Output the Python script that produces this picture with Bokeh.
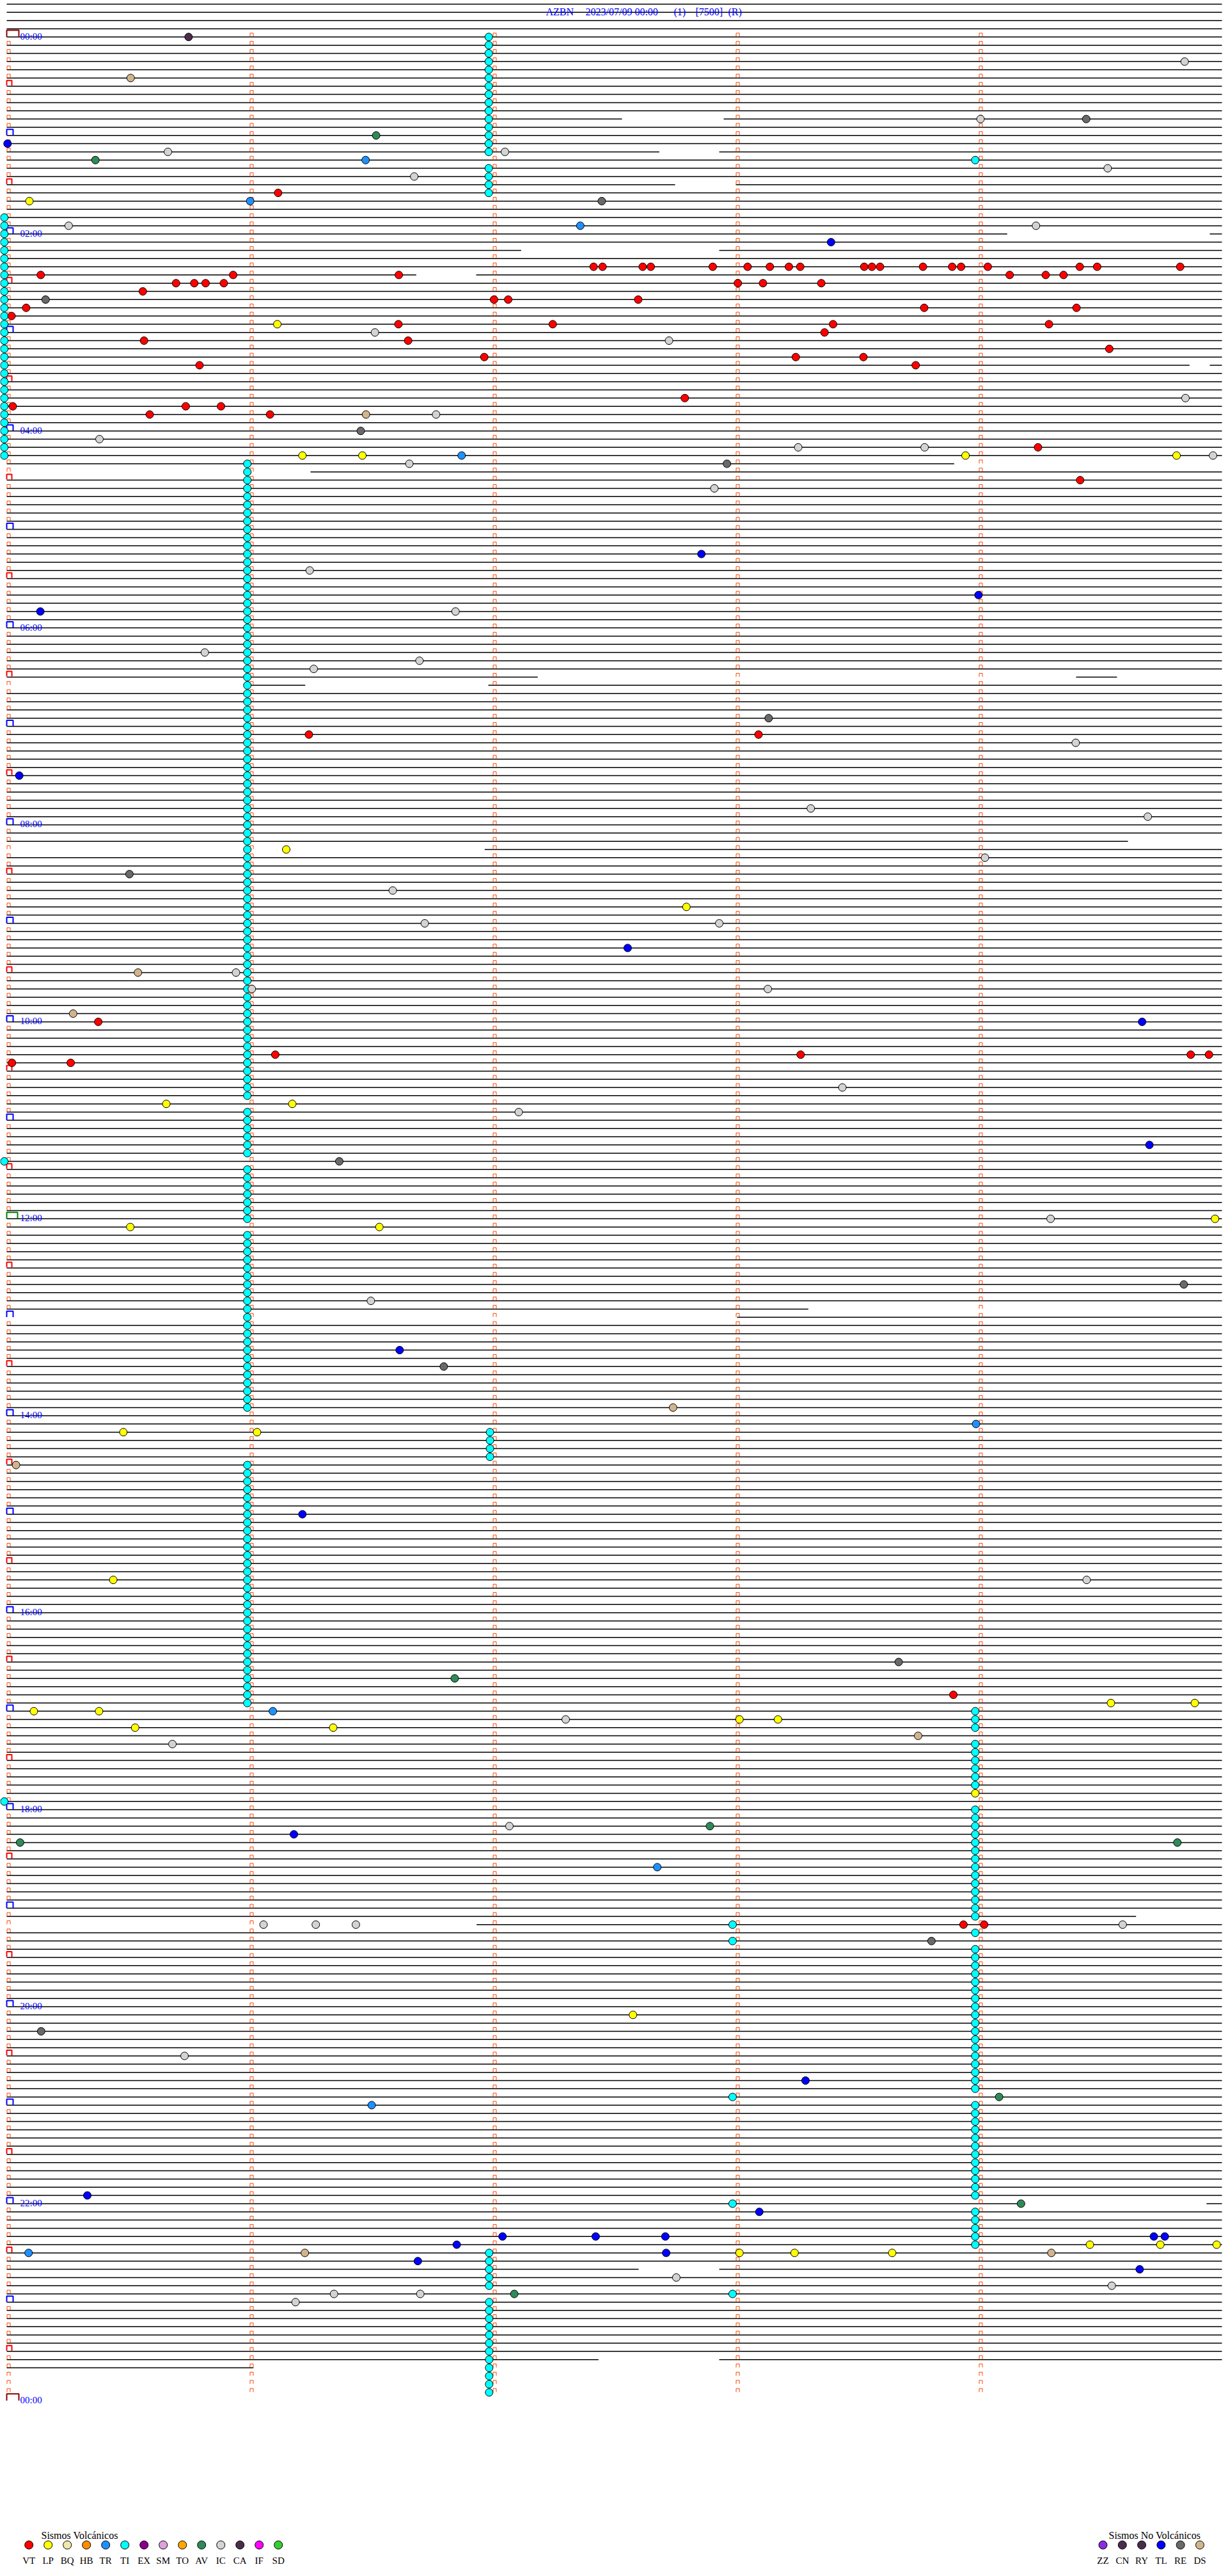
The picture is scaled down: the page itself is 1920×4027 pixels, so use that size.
from bokeh.plotting import figure
from bokeh.models import Range1d
from bokeh.embed import file_html
from bokeh.resources import INLINE
from bokeh.core.properties import value

# ------------------------------------------------------------------ data
TITLE_PARTS = ["AZBN", "2023/07/09 00:00", "(1)", "[7500]", "(R)"]
HOUR_LABELS = ["00:00", "02:00", "04:00", "06:00", "08:00", "10:00", "12:00",
               "14:00", "16:00", "18:00", "20:00", "22:00", "00:00"]
N_ROWS = 288            # 5-minute rows in the day
ROW_SECONDS = 300
LAST_TRACE_ROW = 284    # data stops in row 284 (23:40)

# trace segments (seconds inside the row) where a row is not complete
TRACE_SEGMENTS = {
    10: [(0, 151.9), (177.0, 300)], 14: [(0, 161.1), (175.9, 300)],
    18: [(0, 165.0), (180.0, 300)], 24: [(0, 247.0), (297.0, 300)],
    26: [(0, 127.0), (175.9, 300)], 29: [(0, 101.1), (115.9, 300)],
    40: [(0, 292.0), (297.0, 300)], 52: [(0, 233.9)], 53: [(75.0, 300)],
    78: [(0, 131.1), (264.0, 274.1)], 79: [(59.4, 73.7), (118.9, 300)],
    98: [(0, 276.8)], 99: [(118.0, 300)], 155: [(0, 197.9)], 156: [(180.3, 300)],
    229: [(0, 278.8)], 230: [(116.0, 300)], 264: [(0, 250.4), (296.2, 300)],
    272: [(0, 156.0), (175.9, 300)], 283: [(0, 146.1), (175.9, 300)],
    284: [(0, 60.9)],
}

# tremor (TI) runs: (first row, last row, offset seconds)
TI_RUNS = [(0, 14, 119.0), (15, 15, 239.1), (16, 19, 119.0), (22, 51, -0.6),
           (52, 129, 59.4), (131, 136, 59.4), (137, 137, -0.6), (138, 144, 59.4),
           (146, 167, 59.4), (170, 173, 119.3), (174, 203, 59.4), (204, 206, 239.1),
           (208, 213, 239.1), (215, 215, -0.6), (216, 229, 239.1), (230, 230, 179.2),
           (231, 231, 239.1), (232, 232, 179.2), (233, 250, 239.1), (251, 251, 179.2),
           (252, 263, 239.1), (264, 264, 179.2), (265, 269, 239.1), (270, 274, 119.1),
           (275, 275, 179.2), (276, 287, 119.1)]

# single events: (row, offset seconds)
VT_EVENTS = [
    (19, 67.0),
    (28, 144.9), (28, 147.1), (28, 157.0), (28, 159.0), (28, 174.3), (28, 182.9),
    (28, 188.4), (28, 193.1), (28, 195.9), (28, 211.7), (28, 213.6), (28, 215.6),
    (28, 226.2), (28, 233.4), (28, 235.6), (28, 242.2), (28, 264.9), (28, 269.2),
    (28, 289.7),
    (29, 8.4), (29, 55.9), (29, 96.8), (29, 247.6), (29, 256.5), (29, 260.9),
    (30, 41.8), (30, 46.3), (30, 49.1), (30, 53.6), (30, 180.5), (30, 186.7), (30, 201.1),
    (31, 33.6), (32, 120.3), (32, 123.8), (32, 155.9),
    (33, 4.8), (33, 226.5), (33, 264.1), (34, 1.2),
    (35, 96.7), (35, 134.8), (35, 204.0), (35, 257.3), (36, 201.9),
    (37, 33.9), (37, 99.1), (38, 272.2), (39, 117.9), (39, 194.8), (39, 211.5),
    (40, 47.6), (40, 224.4), (44, 167.4), (45, 1.5), (45, 44.2), (45, 52.9),
    (46, 35.3), (46, 65.0), (50, 254.6), (54, 265.0), (85, 74.6), (85, 185.6),
    (120, 22.6), (124, 66.3), (124, 196.0), (124, 292.3), (124, 296.8),
    (125, 1.3), (125, 15.8), (202, 233.7), (230, 236.2), (230, 241.3),
]
LP_EVENTS = [
    (20, 5.6), (35, 66.8), (51, 73.0), (51, 87.8), (51, 236.7), (51, 288.8),
    (99, 69.0), (106, 167.8), (130, 39.4), (130, 70.5), (144, 298.3),
    (145, 30.5), (145, 92.0), (170, 28.8), (170, 61.8), (188, 26.3),
    (203, 272.6), (203, 293.3), (204, 6.7), (204, 22.8), (205, 180.9), (205, 190.4),
    (206, 31.7), (206, 80.6), (214, 239.1), (241, 154.6),
    (269, 267.4), (269, 284.8), (269, 298.7), (270, 180.9), (270, 194.5), (270, 218.6),
]
TR_EVENTS = [(15, 88.6), (20, 60.1), (23, 141.6), (51, 112.3), (169, 239.3),
             (204, 65.7), (223, 160.6), (252, 90.1), (270, 5.4)]
TL_EVENTS = [(13, 0.2), (25, 203.5), (63, 171.5), (68, 239.9), (70, 8.3), (90, 3.1),
             (111, 153.3), (120, 280.3), (135, 282.1), (160, 97.0), (180, 73.0),
             (219, 70.9), (249, 197.2), (263, 19.9), (265, 185.8),
             (268, 122.4), (268, 145.4), (268, 162.6), (268, 283.2), (268, 285.9),
             (269, 111.1), (270, 162.8), (271, 101.5), (272, 279.7)]
IC_EVENTS = [
    (3, 290.8), (10, 240.4), (14, 39.8), (14, 123.0), (16, 271.8), (17, 100.6),
    (23, 15.3), (23, 254.1), (36, 90.9), (37, 163.5), (44, 291.0), (46, 106.0),
    (49, 22.9), (50, 195.4), (50, 226.6), (51, 297.8), (52, 99.4), (55, 174.7),
    (65, 74.8), (70, 110.8), (75, 48.9), (76, 101.9), (77, 75.8), (86, 263.9),
    (94, 198.5), (95, 281.7), (100, 241.5), (104, 95.3), (108, 103.2), (108, 175.9),
    (114, 56.6), (116, 60.5), (116, 187.9), (128, 206.3), (131, 126.4), (144, 257.7),
    (154, 89.9), (188, 266.6), (205, 138.0), (208, 40.9), (218, 124.1),
    (230, 63.4), (230, 76.3), (230, 86.2), (230, 275.5), (246, 43.9),
    (273, 165.3), (274, 272.8), (275, 80.8), (275, 102.1), (276, 71.3),
]
RE_EVENTS = [(10, 266.5), (20, 146.9), (32, 9.6), (48, 87.4), (52, 177.8), (83, 188.1),
             (102, 30.3), (137, 82.1), (152, 290.6), (162, 107.9), (198, 220.2),
             (232, 228.3), (243, 8.5)]
DS_EVENTS = [(5, 30.6), (46, 88.7), (114, 32.4), (119, 16.4), (167, 164.5),
             (174, 2.3), (207, 225.0), (270, 73.6), (270, 257.9)]
AV_EVENTS = [(12, 91.2), (15, 21.9), (200, 110.6), (218, 173.6), (220, 3.3),
             (220, 289.0), (251, 245.0), (264, 250.4), (275, 125.3)]
CA_EVENTS = [(0, 44.9)]

VOLC_TYPES = ["VT", "LP", "BQ", "HB", "TR", "TI", "EX", "SM", "TO", "AV", "IC", "CA", "IF", "SD"]
VOLC_COLORS = ["#FF0000", "#FFFF00", "#EEE8AA", "#FF8C00", "#1E90FF", "#00FFFF", "#8B008B",
               "#DDA0DD", "#FFA500", "#2E8B57", "#D3D3D3", "#4B2D4B", "#FF00FF", "#32CD32"]
NONVOLC_TYPES = ["ZZ", "CN", "RY", "TL", "RE", "DS"]
NONVOLC_COLORS = ["#8A2BE2", "#4B2D4B", "#4B2D4B", "#0000FF", "#696969", "#D2B48C"]

# ------------------------------------------------------------------ layout
W, H = 1912, 4019
ORIGIN_X, ORIGIN_Y = 0.0, 0.0   # screen position of the frame's top-left corner
PX_PER_SEC = 380.0 / 60.0
X0_PX = 10.0
ROW0_PX = 57.3
ROW_PX = 12.83


def sx(px):
    return (px - X0_PX) / PX_PER_SEC


def ry(py):
    return (py - ROW0_PX) / ROW_PX


DX = 1.0 / PX_PER_SEC
DY = 1.0 / ROW_PX
FONT = value("Liberation Serif")

p = figure(width=W, height=H, output_backend="svg", toolbar_location=None,
           x_range=Range1d(sx(ORIGIN_X), sx(ORIGIN_X + W)),
           y_range=Range1d(ry(ORIGIN_Y + H), ry(ORIGIN_Y)),
           min_border=0, min_border_left=0, min_border_right=0,
           min_border_top=0, min_border_bottom=0)
p.axis.visible = False
p.grid.visible = False
p.outline_line_color = None
p.background_fill_color = "white"
p.border_fill_color = "white"

# traces
xs, ys = [], []
for r in range(-4, LAST_TRACE_ROW + 1):
    for a, b in TRACE_SEGMENTS.get(r, [(0, ROW_SECONDS)]):
        xs.append([a, b])
        ys.append([r, r])
p.multi_line(xs, ys, line_color="black", line_width=1.5)


# minute marks
def n_shape(xc, r, left, right, top, bottom):
    return ([xc + left * DX, xc + left * DX, xc + right * DX, xc + right * DX],
            [r - bottom * DY, r - top * DY, r - top * DY, r - bottom * DY])


mx, my = [], []
big = {"#8B0000": ([], []), "#008000": ([], []), "#0000FF": ([], []), "#FF0000": ([], [])}
for r in range(N_ROWS + 1):
    for m in range(5):
        xc = m * 60
        if m == 0 and r % 6 == 0:
            if r % 144 == 0 and r != 144:
                col, shp = "#8B0000", (0, 19, 10.5, 0)
            elif r == 144:
                col, shp = "#008000", (0, 17, 10, 0)
            elif r % 12 == 0:
                col, shp = "#0000FF", (0, 10, 9.5, 0.3)
            else:
                col, shp = "#FF0000", (0, 8, 9, 1)
            a, b = n_shape(xc, r, *shp)
            big[col][0].append(a)
            big[col][1].append(b)
        elif r < N_ROWS:
            a, b = n_shape(xc, r, 0.5, 5.5, 6, 0.5)
            mx.append(a)
            my.append(b)
p.multi_line(mx, my, line_color="#FF4500", line_width=1)
for col, (a, b) in big.items():
    p.multi_line(a, b, line_color=col, line_width=2)

# hour labels
lab_rows = [i * 24 for i in range(len(HOUR_LABELS))]
p.text(x=[sx(31)] * len(lab_rows), y=lab_rows, text=HOUR_LABELS, text_font=FONT,
       text_font_size="15px", text_color="#0000FF", text_baseline="alphabetic",
       text_align="left", y_offset=-1)

# title
title_px = [853, 915, 1053, 1087, 1138]
p.text(x=[sx(v) for v in title_px], y=[ry(18.3)] * len(TITLE_PARTS), text=TITLE_PARTS,
       text_font=FONT, text_font_size="16px", text_color="#0000FF",
       text_baseline="alphabetic", text_align="left")

# events
ti_r, ti_s = [], []
for a, b, s in TI_RUNS:
    for r in range(a, b + 1):
        ti_r.append(r)
        ti_s.append(s)
p.scatter(ti_s, ti_r, marker="circle", size=12, fill_color="#00FFFF",
          line_color="black", line_width=1)

for events, col in [(VT_EVENTS, "#FF0000"), (LP_EVENTS, "#FFFF00"), (TR_EVENTS, "#1E90FF"),
                    (TL_EVENTS, "#0000FF"), (IC_EVENTS, "#D3D3D3"), (RE_EVENTS, "#696969"),
                    (DS_EVENTS, "#D2B48C"), (AV_EVENTS, "#2E8B57"), (CA_EVENTS, "#4B2D4B")]:
    p.scatter([e[1] for e in events], [e[0] for e in events], marker="circle", size=12,
              fill_color=col, line_color="black", line_width=1)

# legends
LEG_Y = 3978
p.text(x=[sx(64)], y=[ry(3963)], text=["Sismos Volcánicos"], text_font=FONT,
       text_font_size="16px", text_color="black", text_baseline="alphabetic")
vx = [sx(44.7 + 30.0 * i) for i in range(len(VOLC_TYPES))]
p.scatter(vx, [ry(LEG_Y)] * len(vx), marker="circle", size=13, fill_color=VOLC_COLORS,
          line_color="black", line_width=1)
p.text(x=vx, y=[ry(4002)] * len(vx), text=VOLC_TYPES, text_font=FONT,
       text_font_size="15px", text_color="black", text_baseline="alphabetic",
       text_align="center")

p.text(x=[sx(1733)], y=[ry(3963)], text=["Sismos No Volcánicos"], text_font=FONT,
       text_font_size="16px", text_color="black", text_baseline="alphabetic")
nx = [sx(1724 + 30.3 * i) for i in range(len(NONVOLC_TYPES))]
p.scatter(nx, [ry(LEG_Y)] * len(nx), marker="circle", size=13, fill_color=NONVOLC_COLORS,
          line_color="black", line_width=1)
p.text(x=nx, y=[ry(4002)] * len(nx), text=NONVOLC_TYPES, text_font=FONT,
       text_font_size="15px", text_color="black", text_baseline="alphabetic",
       text_align="center")

open("out.html", "w").write(file_html(p, INLINE))
